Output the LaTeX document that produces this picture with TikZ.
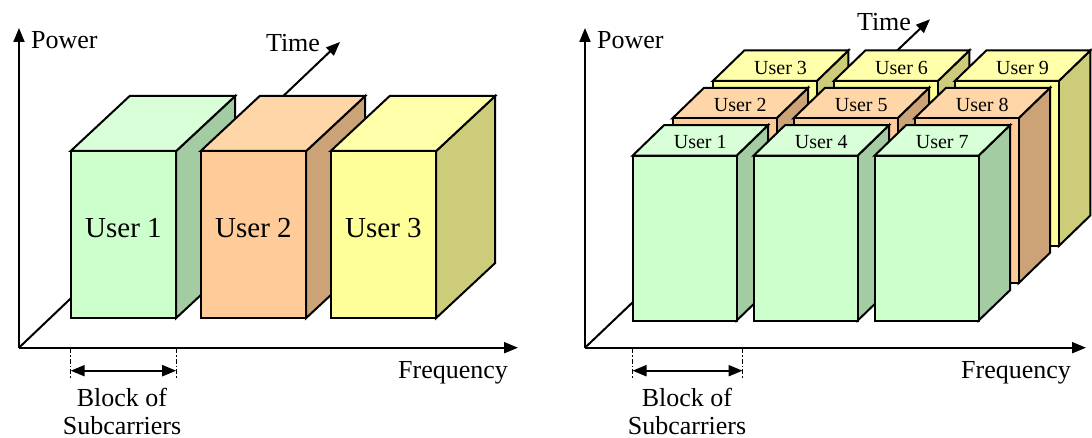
\documentclass[tikz,border=0pt]{standalone}
\usepackage{fontspec}
\setmainfont{Liberation Serif}
\usetikzlibrary{arrows.meta}
\definecolor{gF}{HTML}{CCFFCC}
\definecolor{gT}{HTML}{D8FFD8}
\definecolor{gS}{HTML}{A3CCA3}
\definecolor{oF}{HTML}{FFCC99}
\definecolor{oT}{HTML}{FFD6A8}
\definecolor{oS}{HTML}{CCA377}
\definecolor{yF}{HTML}{FFFF99}
\definecolor{yT}{HTML}{FFFFAA}
\definecolor{yS}{HTML}{CCCC7A}
% #1 name, #2 x, #3 y bottom, #4 width, #5 height, #6 depth dx, #7 depth dy (up), #8 colour prefix
\newcommand\mycube[8]{%
  \filldraw[box,fill=#8S] (#2+#4,#3) -- (#2+#4,#3-#5) -- (#2+#4+#6,#3-#5-#7) -- (#2+#4+#6,#3-#7) -- cycle;
  \filldraw[box,fill=#8T] (#2,#3-#5) -- (#2+#4,#3-#5) -- (#2+#4+#6,#3-#5-#7) -- (#2+#6,#3-#5-#7) -- cycle;
  \filldraw[box,fill=#8F] (#2,#3) rectangle (#2+#4,#3-#5);
  \coordinate (#1-front) at (#2+#4/2,#3-#5/2);
  \coordinate (#1-top) at (#2+#4/2+#6/2,#3-#5-#7/2);
}
\begin{document}
\begin{tikzpicture}[x=1pt,y=-1pt,
  box/.style={draw=black,line width=2pt,line join=miter},
  axis/.style={line width=2pt,-{Triangle[length=14pt,width=11pt]}},
  span/.style={line width=2pt,{Triangle[length=14pt,width=11pt]}-{Triangle[length=14pt,width=11pt]}},
  guide/.style={line width=1.2pt,dash pattern=on 5pt off 2pt on 1.5pt off 2pt},
  axlabel/.style={font=\fontsize{26}{28}\selectfont,inner sep=0pt},
  biguser/.style={font=\fontsize{29}{31}\selectfont,inner sep=0pt,yshift=6pt},
  smalluser/.style={font=\fontsize{20}{22}\selectfont,inner sep=0pt,yshift=-2pt}]
\useasboundingbox (0,0) rectangle (1092,438);

% ---------------- left panel ----------------
\coordinate (LO) at (19,347.7);
\coordinate (LP) at (19,28);
\coordinate (LF) at (518,347.7);
\coordinate (LT) at (340,42);
\draw[axis] (LO) -- (LT);
\draw[axis] (LO) -- (LP);
\draw[axis] (LO) -- (LF);
\node[axlabel,anchor=west] (Lpower) at (31,40) {Power};
\node[axlabel] (Ltime) at (293,43) {Time};
\node[axlabel] (Lfreq) at (453,373) {Frequency};

\mycube{L1}{70.7}{318}{105.5}{167}{59}{55}{g}
\node[biguser] (Lu1) at (L1-front) {User 1};
\mycube{L2}{200.7}{318}{105.5}{167}{59}{55}{o}
\node[biguser] (Lu2) at (L2-front) {User 2};
\mycube{L3}{330.7}{318}{105.5}{167}{59}{55}{y}
\node[biguser] (Lu3) at (L3-front) {User 3};

\coordinate (Lga) at (70.7,348);
\coordinate (Lgb) at (70.7,379);
\coordinate (Lgc) at (176.2,348);
\coordinate (Lgd) at (176.2,379);
\draw[guide] (Lga) -- (Lgb);
\draw[guide] (Lgc) -- (Lgd);
\coordinate (Lsa) at (70.7,370.7);
\coordinate (Lsb) at (176.2,370.7);
\draw[span] (Lsa) -- (Lsb);
\node[axlabel,align=center] (Lblock) at (122,411) {Block of\\Subcarriers};

% ---------------- right panel ----------------
\coordinate (RO) at (585,347.7);
\coordinate (RP) at (585,28);
\coordinate (RF) at (1086,347.7);
\coordinate (RT) at (930,19.3);
\draw[axis] (RO) -- (RT);
\draw[axis] (RO) -- (RP);
\draw[axis] (RO) -- (RF);
\node[axlabel,anchor=west] (Rpower) at (597,40) {Power};
\node[axlabel] (Rtime) at (884,21.7) {Time};
\node[axlabel] (Rfreq) at (1016,373) {Frequency};

% back row (yellow)
\mycube{R3}{712.8}{246}{104}{165}{31.5}{30.5}{y}
\node[smalluser] (Ru3) at (R3-top) {User 3};
\mycube{R6}{833.8}{246}{104}{165}{31.5}{30.5}{y}
\node[smalluser] (Ru6) at (R6-top) {User 6};
\mycube{R9}{954.8}{246}{104}{165}{31.5}{30.5}{y}
\node[smalluser] (Ru9) at (R9-top) {User 9};
% middle row (orange)
\mycube{R2}{672.5}{283.3}{104}{165}{31.5}{30.5}{o}
\node[smalluser] (Ru2) at (R2-top) {User 2};
\mycube{R5}{793.5}{283.3}{104}{165}{31.5}{30.5}{o}
\node[smalluser] (Ru5) at (R5-top) {User 5};
\mycube{R8}{914.5}{283.3}{104}{165}{31.5}{30.5}{o}
\node[smalluser] (Ru8) at (R8-top) {User 8};
% front row (green)
\mycube{R1}{632.5}{320.7}{104}{165}{31.5}{30.5}{g}
\node[smalluser] (Ru1) at (R1-top) {User 1};
\mycube{R4}{753.5}{320.7}{104}{165}{31.5}{30.5}{g}
\node[smalluser] (Ru4) at (R4-top) {User 4};
\mycube{R7}{874.5}{320.7}{104}{165}{31.5}{30.5}{g}
\node[smalluser] (Ru7) at (R7-top) {User 7};

\coordinate (Rga) at (632.5,348);
\coordinate (Rgb) at (632.5,379);
\coordinate (Rgc) at (742.5,348);
\coordinate (Rgd) at (742.5,379);
\draw[guide] (Rga) -- (Rgb);
\draw[guide] (Rgc) -- (Rgd);
\coordinate (Rsa) at (632.5,370.7);
\coordinate (Rsb) at (742.5,370.7);
\draw[span] (Rsa) -- (Rsb);
\node[axlabel,align=center] (Rblock) at (687,411) {Block of\\Subcarriers};
\end{tikzpicture}
\end{document}
